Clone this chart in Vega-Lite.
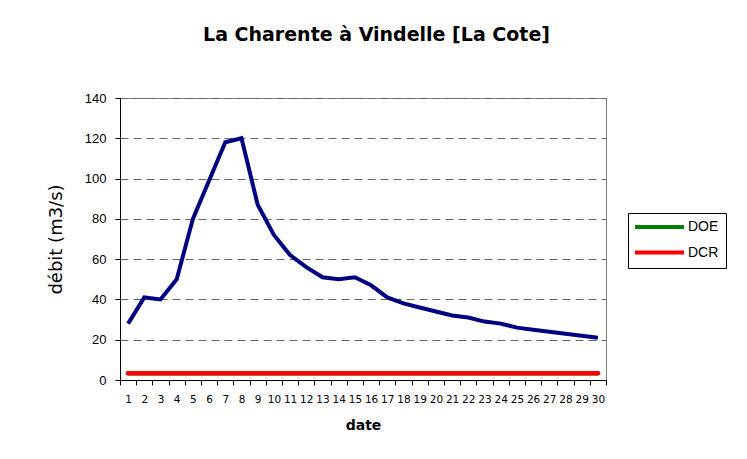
{
  "$schema": "https://vega.github.io/schema/vega-lite/v6.json",
  "width": 486,
  "height": 282,
  "autosize": {"type": "none"},
  "padding": {"left": 120, "top": 98, "right": 141, "bottom": 79},
  "background": "white",
  "title": {
    "text": "La Charente à Vindelle [La Cote]",
    "font": "DejaVu Sans",
    "fontSize": 19,
    "fontWeight": "bold",
    "color": "black",
    "anchor": "middle",
    "frame": "group",
    "dx": 13.5,
    "offset": 47
  },
  "config": {
    "view": {"stroke": "#808080", "strokeWidth": 1},
    "axis": {"domainColor": "black", "tickColor": "black", "labelColor": "black", "titleColor": "black"}
  },
  "datasets": {
    "debit": [
      {"date": 1, "debit": 28}, {"date": 2, "debit": 41}, {"date": 3, "debit": 40},
      {"date": 4, "debit": 50}, {"date": 5, "debit": 80}, {"date": 6, "debit": 99},
      {"date": 7, "debit": 118}, {"date": 8, "debit": 120}, {"date": 9, "debit": 87},
      {"date": 10, "debit": 72}, {"date": 11, "debit": 62}, {"date": 12, "debit": 56},
      {"date": 13, "debit": 51}, {"date": 14, "debit": 50}, {"date": 15, "debit": 51},
      {"date": 16, "debit": 47}, {"date": 17, "debit": 41}, {"date": 18, "debit": 38},
      {"date": 19, "debit": 36}, {"date": 20, "debit": 34}, {"date": 21, "debit": 32},
      {"date": 22, "debit": 31}, {"date": 23, "debit": 29}, {"date": 24, "debit": 28},
      {"date": 25, "debit": 26}, {"date": 26, "debit": 25}, {"date": 27, "debit": 24},
      {"date": 28, "debit": 23}, {"date": 29, "debit": 22}, {"date": 30, "debit": 21}
    ],
    "seuils": [
      {"date": 1, "serie": "DOE", "debit": 3.3}, {"date": 2, "serie": "DOE", "debit": 3.3}, {"date": 3, "serie": "DOE", "debit": 3.3},
      {"date": 4, "serie": "DOE", "debit": 3.3}, {"date": 5, "serie": "DOE", "debit": 3.3}, {"date": 6, "serie": "DOE", "debit": 3.3},
      {"date": 7, "serie": "DOE", "debit": 3.3}, {"date": 8, "serie": "DOE", "debit": 3.3}, {"date": 9, "serie": "DOE", "debit": 3.3},
      {"date": 10, "serie": "DOE", "debit": 3.3}, {"date": 11, "serie": "DOE", "debit": 3.3}, {"date": 12, "serie": "DOE", "debit": 3.3},
      {"date": 13, "serie": "DOE", "debit": 3.3}, {"date": 14, "serie": "DOE", "debit": 3.3}, {"date": 15, "serie": "DOE", "debit": 3.3},
      {"date": 16, "serie": "DOE", "debit": 3.3}, {"date": 17, "serie": "DOE", "debit": 3.3}, {"date": 18, "serie": "DOE", "debit": 3.3},
      {"date": 19, "serie": "DOE", "debit": 3.3}, {"date": 20, "serie": "DOE", "debit": 3.3}, {"date": 21, "serie": "DOE", "debit": 3.3},
      {"date": 22, "serie": "DOE", "debit": 3.3}, {"date": 23, "serie": "DOE", "debit": 3.3}, {"date": 24, "serie": "DOE", "debit": 3.3},
      {"date": 25, "serie": "DOE", "debit": 3.3}, {"date": 26, "serie": "DOE", "debit": 3.3}, {"date": 27, "serie": "DOE", "debit": 3.3},
      {"date": 28, "serie": "DOE", "debit": 3.3}, {"date": 29, "serie": "DOE", "debit": 3.3}, {"date": 30, "serie": "DOE", "debit": 3.3},
      {"date": 1, "serie": "DCR", "debit": 3.3}, {"date": 2, "serie": "DCR", "debit": 3.3}, {"date": 3, "serie": "DCR", "debit": 3.3},
      {"date": 4, "serie": "DCR", "debit": 3.3}, {"date": 5, "serie": "DCR", "debit": 3.3}, {"date": 6, "serie": "DCR", "debit": 3.3},
      {"date": 7, "serie": "DCR", "debit": 3.3}, {"date": 8, "serie": "DCR", "debit": 3.3}, {"date": 9, "serie": "DCR", "debit": 3.3},
      {"date": 10, "serie": "DCR", "debit": 3.3}, {"date": 11, "serie": "DCR", "debit": 3.3}, {"date": 12, "serie": "DCR", "debit": 3.3},
      {"date": 13, "serie": "DCR", "debit": 3.3}, {"date": 14, "serie": "DCR", "debit": 3.3}, {"date": 15, "serie": "DCR", "debit": 3.3},
      {"date": 16, "serie": "DCR", "debit": 3.3}, {"date": 17, "serie": "DCR", "debit": 3.3}, {"date": 18, "serie": "DCR", "debit": 3.3},
      {"date": 19, "serie": "DCR", "debit": 3.3}, {"date": 20, "serie": "DCR", "debit": 3.3}, {"date": 21, "serie": "DCR", "debit": 3.3},
      {"date": 22, "serie": "DCR", "debit": 3.3}, {"date": 23, "serie": "DCR", "debit": 3.3}, {"date": 24, "serie": "DCR", "debit": 3.3},
      {"date": 25, "serie": "DCR", "debit": 3.3}, {"date": 26, "serie": "DCR", "debit": 3.3}, {"date": 27, "serie": "DCR", "debit": 3.3},
      {"date": 28, "serie": "DCR", "debit": 3.3}, {"date": 29, "serie": "DCR", "debit": 3.3}, {"date": 30, "serie": "DCR", "debit": 3.3}
    ]
  },
  "layer": [
    {
      "data": {"name": "seuils"},
      "mark": {"type": "line", "strokeWidth": 4.5, "strokeCap": "round"},
      "encoding": {
        "x": {
          "field": "date",
          "type": "ordinal",
          "scale": {"type": "band", "paddingInner": 0, "paddingOuter": 0},
          "axis": {
            "title": "date",
            "titleFont": "DejaVu Sans",
            "titleFontSize": 14,
            "titleFontWeight": "bold",
            "titlePadding": 14,
            "labelFont": "DejaVu Sans",
            "labelFontSize": 10.5,
            "labelAngle": 0,
            "labelPadding": 9,
            "tickBand": "extent",
            "tickSize": 5,
            "grid": false
          }
        },
        "y": {
          "field": "debit",
          "type": "quantitative",
          "scale": {"domain": [0, 140], "nice": false},
          "axis": {
            "title": "débit (m3/s)",
            "titleFont": "DejaVu Sans",
            "titleFontSize": 18,
            "titleFontWeight": "normal",
            "titlePadding": 19,
            "labelFont": "Liberation Sans",
            "labelFontSize": 13,
            "labelPadding": 9,
            "tickSize": 5,
            "values": [0, 20, 40, 60, 80, 100, 120, 140],
            "grid": true,
            "gridColor": "#666666",
            "gridDash": [8, 5],
            "gridWidth": 1
          }
        },
        "color": {
          "field": "serie",
          "type": "nominal",
          "scale": {"domain": ["DOE", "DCR"], "range": ["#008000", "#ff0000"]},
          "legend": {
            "title": null,
            "orient": "none",
            "legendX": 508,
            "legendY": 115,
            "fillColor": "white",
            "strokeColor": "black",
            "padding": 7,
            "symbolType": "M-1.4,0H8.4",
            "symbolSize": 100,
            "symbolStrokeWidth": 4,
            "labelOffset": 39,
            "labelFont": "Liberation Sans",
            "labelFontSize": 14,
            "labelColor": "black",
            "rowPadding": 9.5
          }
        }
      }
    },
    {
      "data": {"name": "debit"},
      "mark": {"type": "line", "color": "#000080", "strokeWidth": 4, "strokeJoin": "miter"},
      "encoding": {
        "x": {"field": "date", "type": "ordinal"},
        "y": {"field": "debit", "type": "quantitative"}
      }
    }
  ]
}
